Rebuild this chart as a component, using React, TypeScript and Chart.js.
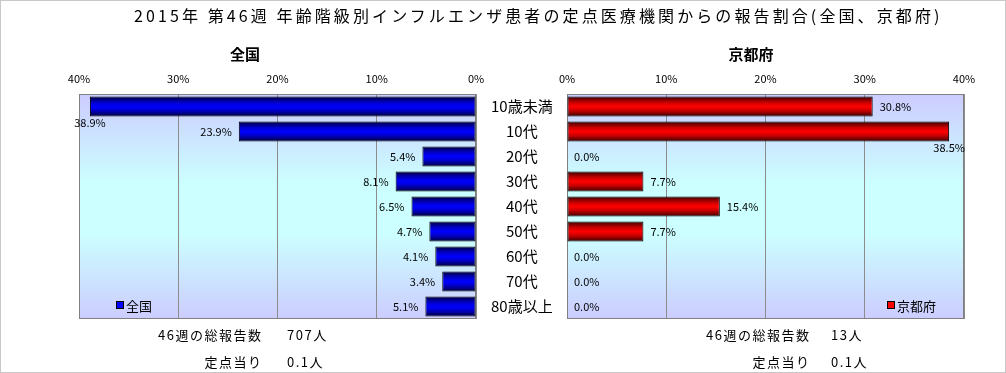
import React, { useEffect, useRef } from 'react';
import { Chart, registerables } from 'chart.js';

Chart.register(...registerables);

const categories = ['10歳未満', '10代', '20代', '30代', '40代', '50代', '60代', '70代', '80歳以上'];
const nationalValues = [38.9, 23.9, 5.4, 8.1, 6.5, 4.7, 4.1, 3.4, 5.1];
const kyotoValues = [30.8, 38.5, 0.0, 7.7, 15.4, 7.7, 0.0, 0.0, 0.0];
const xTicks = [0, 10, 20, 30, 40];

const titleText = '2015年 第46週 年齢階級別インフルエンザ患者の定点医療機関からの報告割合(全国、京都府)';
const nationalName = '全国';
const kyotoName = '京都府';
const totalLabel = '46週の総報告数';
const perSiteLabel = '定点当り';
const nationalTotal = '707人';
const nationalPerSite = '0.1人';
const kyotoTotal = '13人';
const kyotoPerSite = '0.1人';

const FONT = '"Noto Sans CJK JP", "Noto Sans", sans-serif';

const plotBackground = {
  id: 'plotBackground',
  beforeDraw(chart: any) {
    const { ctx, chartArea: a } = chart;
    if (!a) return;
    const g = ctx.createLinearGradient(0, a.top, 0, a.bottom);
    g.addColorStop(0, '#ccccff');
    g.addColorStop(0.4, '#ccffff');
    g.addColorStop(0.62, '#ccffff');
    g.addColorStop(1, '#ccccff');
    ctx.save();
    ctx.fillStyle = g;
    ctx.fillRect(a.left, a.top, a.right - a.left, a.bottom - a.top);
    ctx.restore();
  },
  beforeDatasetsDraw(chart: any) {
    const { ctx, chartArea: a } = chart;
    ctx.save();
    ctx.strokeStyle = '#808080';
    ctx.lineWidth = 1;
    ctx.strokeRect(a.left + 0.5, a.top + 0.5, a.right - a.left - 1, a.bottom - a.top - 1);
    ctx.restore();
  },
};

const barLabels = {
  id: 'barLabels',
  afterDatasetsDraw(chart: any, _args: any, opts: any) {
    const { ctx, chartArea: a } = chart;
    const side = opts.side;
    const ds = chart.data.datasets[0];
    const meta = chart.getDatasetMeta(0);
    ctx.save();
    ctx.font = `11px ${FONT}`;
    ctx.fillStyle = '#000';
    meta.data.forEach((el: any, i: number) => {
      const text = Number(ds.data[i]).toFixed(1) + '%';
      const w = ctx.measureText(text).width;
      const off = 7;
      if (side === 'left') {
        if (el.x - off - w < a.left) {
          ctx.textAlign = 'center';
          ctx.textBaseline = 'top';
          ctx.fillText(text, el.x, el.y + el.height / 2 + 1);
        } else {
          ctx.textAlign = 'right';
          ctx.textBaseline = 'middle';
          ctx.fillText(text, el.x - off, el.y);
        }
      } else {
        if (el.x + off + w > a.right) {
          ctx.textAlign = 'center';
          ctx.textBaseline = 'top';
          ctx.fillText(text, el.x, el.y + el.height / 2 + 1);
        } else {
          ctx.textAlign = 'left';
          ctx.textBaseline = 'middle';
          ctx.fillText(text, el.x + off, el.y);
        }
      }
    });
    ctx.restore();
  },
};

const innerLegend = {
  id: 'innerLegend',
  afterDatasetsDraw(chart: any, _args: any, opts: any) {
    const { ctx, chartArea: a } = chart;
    const ds = chart.data.datasets[0];
    const x = opts.side === 'left' ? a.left + 38 : a.right - 76;
    const y = a.bottom - 14;
    ctx.save();
    ctx.fillStyle = opts.color;
    ctx.fillRect(x, y - 3, 6, 6);
    ctx.strokeStyle = '#000';
    ctx.lineWidth = 1;
    ctx.strokeRect(x - 0.5, y - 3.5, 7, 7);
    ctx.fillStyle = '#000';
    ctx.font = `13px ${FONT}`;
    ctx.textAlign = 'left';
    ctx.textBaseline = 'middle';
    ctx.fillText(ds.label, x + 9, y + 1);
    ctx.restore();
  },
};

function barFill(dark: string, mid: string, bright: string) {
  return (c: any) => {
    const chart = c.chart;
    const ys = chart.scales && chart.scales.y;
    if (!ys || !chart.chartArea || c.dataIndex === undefined) return bright;
    const cy = ys.getPixelForValue(c.dataIndex);
    const half = (ys.height / categories.length) * 0.8 / 2;
    const g = chart.ctx.createLinearGradient(0, cy - half, 0, cy + half);
    g.addColorStop(0, dark);
    g.addColorStop(0.3, mid);
    g.addColorStop(0.5, bright);
    g.addColorStop(0.7, mid);
    g.addColorStop(1, dark);
    return g;
  };
}

function buildConfig(side: 'left' | 'right'): any {
  const isLeft = side === 'left';
  return {
    type: 'bar',
    data: {
      labels: categories,
      datasets: [
        {
          label: isLeft ? nationalName : kyotoName,
          data: isLeft ? nationalValues : kyotoValues,
          backgroundColor: isLeft
            ? barFill('#000038', '#0000c8', '#0000ff')
            : barFill('#380000', '#c80000', '#ff0000'),
          borderColor: '#000000',
          borderWidth: 1,
          borderSkipped: false,
          barPercentage: 0.8,
          categoryPercentage: 1.0,
        },
      ],
    },
    options: {
      indexAxis: 'y',
      responsive: false,
      animation: false,
      events: [],
      layout: {
        padding: isLeft
          ? { left: 79, right: 0, top: 64, bottom: 54 }
          : { left: 27, right: 42, top: 64, bottom: 54 },
      },
      scales: {
        x: {
          type: 'linear',
          position: 'top',
          reverse: isLeft,
          min: 0,
          max: 40,
          afterBuildTicks: (s: any) => {
            s.ticks = xTicks.map((v) => ({ value: v }));
          },
          afterFit: (s: any) => {
            s.height = 30;
          },
          grid: { color: '#8c8c8c', lineWidth: 1, drawTicks: false },
          border: { display: false },
          ticks: {
            color: '#000',
            padding: 9,
            font: { family: FONT, size: 11 },
            callback: (v: any) => `${v}%`,
          },
        },
        y: {
          type: 'category',
          position: 'right',
          display: isLeft,
          afterFit: (s: any) => {
            s.width = isLeft ? 90 : 0;
          },
          grid: { display: false },
          border: { display: false },
          ticks: {
            color: '#000',
            crossAlign: 'center',
            padding: 7,
            font: { family: FONT, size: 15 },
          },
        },
      },
      plugins: {
        legend: { display: false },
        tooltip: { enabled: false },
        barLabels: { side },
        innerLegend: { side, color: isLeft ? '#0000ff' : '#ff0000' },
      },
    },
    plugins: [plotBackground, barLabels, innerLegend],
  };
}

const textBase: React.CSSProperties = {
  position: 'absolute',
  fontFamily: FONT,
  color: '#000',
  whiteSpace: 'nowrap',
};

function Txt(props: {
  children: React.ReactNode;
  x: number;
  y: number;
  align: 'left' | 'right' | 'center';
  size: number;
  ls?: number;
  bold?: boolean;
}) {
  const { x, y, align, size, ls = 0, bold } = props;
  const lh = Math.round(size * 1.4);
  const w = 600;
  let left = x;
  if (align === 'right') left = x - w + ls;
  if (align === 'center') left = x - w / 2 + ls / 2;
  return (
    <div
      style={{
        ...textBase,
        left,
        top: y - lh / 2,
        width: w,
        lineHeight: `${lh}px`,
        fontSize: size,
        letterSpacing: ls,
        fontWeight: bold ? 700 : 400,
        textAlign: align,
      }}
    >
      {props.children}
    </div>
  );
}

export default function App() {
  const leftRef = useRef<HTMLCanvasElement>(null);
  const rightRef = useRef<HTMLCanvasElement>(null);

  useEffect(() => {
    const l = new Chart(leftRef.current as HTMLCanvasElement, buildConfig('left'));
    const r = new Chart(rightRef.current as HTMLCanvasElement, buildConfig('right'));
    return () => {
      l.destroy();
      r.destroy();
    };
  }, []);

  return (
    <div
      style={{
        position: 'absolute',
        left: 0,
        top: 0,
        width: 1006,
        height: 373,
        boxSizing: 'border-box',
        border: '1px solid #c8c8c8',
        background: '#ffffff',
        overflow: 'hidden',
      }}
    >
      <canvas
        ref={leftRef}
        width={566}
        height={373}
        style={{ position: 'absolute', left: -1, top: -1, width: 566, height: 373 }}
      />
      <canvas
        ref={rightRef}
        width={466}
        height={373}
        style={{ position: 'absolute', left: 539, top: -1, width: 466, height: 373 }}
      />
      <Txt x={133} y={14} align="left" size={16} ls={3.1}>
        {titleText}
      </Txt>
      <Txt x={244} y={52} align="center" size={15} bold>
        {nationalName}
      </Txt>
      <Txt x={750} y={52} align="center" size={15} bold>
        {kyotoName}
      </Txt>
      <Txt x={260} y={334} align="right" size={13} ls={1.5}>
        {totalLabel}
      </Txt>
      <Txt x={286} y={334} align="left" size={13} ls={1.5}>
        {nationalTotal}
      </Txt>
      <Txt x={260} y={361} align="right" size={13} ls={1.5}>
        {perSiteLabel}
      </Txt>
      <Txt x={286} y={361} align="left" size={13} ls={1.5}>
        {nationalPerSite}
      </Txt>
      <Txt x={808} y={334} align="right" size={13} ls={1.5}>
        {totalLabel}
      </Txt>
      <Txt x={830} y={334} align="left" size={13} ls={1.5}>
        {kyotoTotal}
      </Txt>
      <Txt x={808} y={361} align="right" size={13} ls={1.5}>
        {perSiteLabel}
      </Txt>
      <Txt x={830} y={361} align="left" size={13} ls={1.5}>
        {kyotoPerSite}
      </Txt>
    </div>
  );
}
